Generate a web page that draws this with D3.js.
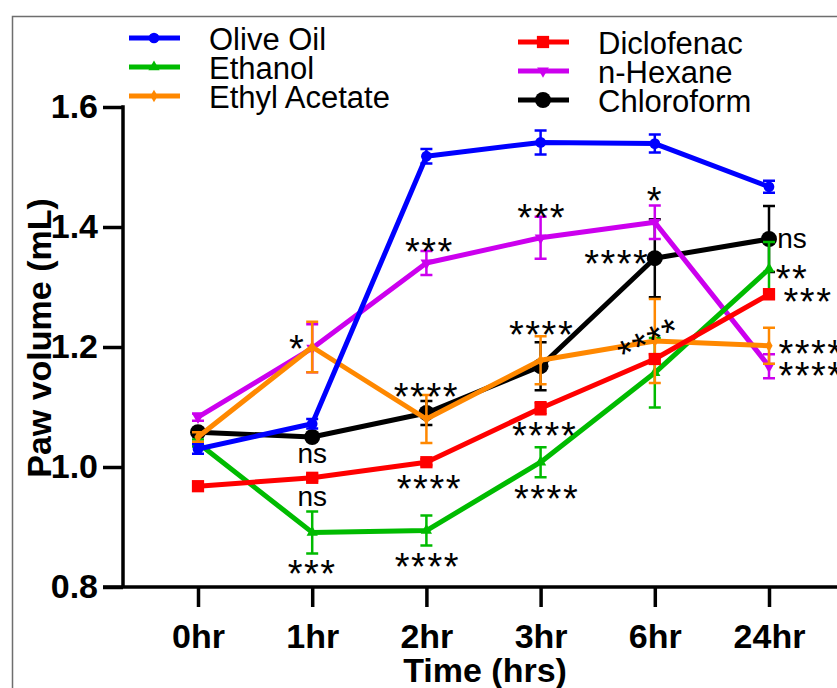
<!DOCTYPE html>
<html>
<head>
<meta charset="utf-8">
<script src="https://cdn.jsdelivr.net/npm/d3@7"></script>
<style>
  body { margin: 0; background: #fff; }
  svg { display: block; font-family: "Liberation Sans", Arial, sans-serif; }
</style>
</head>
<body>
<svg id="chart" width="837" height="688"></svg>
<script>
// ---- data ----
const timeLabels = ["0hr", "1hr", "2hr", "3hr", "6hr", "24hr"];
const yTicks = [0.8, 1.0, 1.2, 1.4, 1.6];

const oliveOil      = [1.030, 1.072, 1.518, 1.541, 1.539, 1.467];
const oliveOilErr   = [0.008, 0.008, 0.012, 0.020, 0.015, 0.010];
const ethanol       = [1.040, 0.891, 0.894, 1.008, 1.157, 1.330];
const ethanolErr    = [0.006, 0.035, 0.025, 0.025, 0.058, 0.045];
const ethylAcetate  = [1.050, 1.200, 1.080, 1.178, 1.210, 1.202];
const ethylAcetateErr = [0.008, 0.042, 0.040, 0.040, 0.070, 0.030];
const diclofenac    = [0.968, 0.982, 1.008, 1.098, 1.180, 1.288];
const diclofenacErr = [0.004, 0.005, 0.005, 0.010, 0.008, 0.008];
const nHexane       = [1.083, 1.198, 1.340, 1.382, 1.408, 1.168];
const nHexaneErr    = [0.006, 0.040, 0.020, 0.035, 0.028, 0.020];
const chloroform    = [1.058, 1.050, 1.090, 1.168, 1.348, 1.380];
const chloroformErr = [0.006, 0.006, 0.020, 0.040, 0.065, 0.055];

// significance marks: text, time, y value, horizontal nudge, rotation
const marks = [
  ["*", "1hr", 1.212, -15, 0], ["ns", "1hr", 1.020, 0, 0], ["ns", "1hr", 0.948, 0, 0], ["***", "1hr", 0.837, 0, 0],
  ["***", "2hr", 1.373, 3, 0], ["****", "2hr", 1.132, 0, 0], ["****", "2hr", 0.978, 3, 0], ["****", "2hr", 0.848, 1, 0],
  ["***", "3hr", 1.430, 1, 0], ["****", "3hr", 1.235, 1, 0], ["****", "3hr", 1.067, 4, 0], ["****", "3hr", 0.962, 6, 0],
  ["*", "6hr", 1.458, 0, 0], ["****", "6hr", 1.353, -38, 0], ["****", "6hr", 1.222, -9, -26],
  ["ns", "24hr", 1.378, 23, 0], ["**", "24hr", 1.328, 23, 0], ["***", "24hr", 1.290, 39, 0],
  ["****", "24hr", 1.203, 42, 0], ["****", "24hr", 1.167, 42, 0]
];

const series = [
  { name: "Chloroform", values: chloroform, err: chloroformErr, color: "#000000", shape: "bigCircle" },
  { name: "n-Hexane", values: nHexane, err: nHexaneErr, color: "#cc00ee", shape: "triDown" },
  { name: "Ethanol", values: ethanol, err: ethanolErr, color: "#00bb00", shape: "triUp" },
  { name: "Ethyl Acetate", values: ethylAcetate, err: ethylAcetateErr, color: "#ff8800", shape: "diamond" },
  { name: "Diclofenac", values: diclofenac, err: diclofenacErr, color: "#ff0000", shape: "square" },
  { name: "Olive Oil", values: oliveOil, err: oliveOilErr, color: "#0000ff", shape: "circle" }
];
const legendLeft = ["Olive Oil", "Ethanol", "Ethyl Acetate"];
const legendRight = ["Diclofenac", "n-Hexane", "Chloroform"];

const svg = d3.select("#chart");

// frame
svg.append("path")
  .attr("d", "M12.5,688V16.5H837")
  .attr("fill", "none").attr("stroke", "#6e6e6e").attr("stroke-width", 1.5);

const x = d3.scalePoint().domain(timeLabels).range([198, 769]);
const y = d3.scaleLinear().domain([0.8, 1.6]).range([587, 107]);

function shapePath(shape) {
  const sym = {
    circle: d3.symbol(d3.symbolCircle, 90),
    bigCircle: d3.symbol(d3.symbolCircle, 200),
    square: d3.symbol(d3.symbolSquare, 150),
    triUp: d3.symbol(d3.symbolTriangle, 55),
    triDown: d3.symbol(d3.symbolTriangle, 60),
    diamond: d3.symbol(d3.symbolDiamond, 45)
  };
  return sym[shape]();
}

// axes
const yAxis = svg.append("g")
  .attr("transform", "translate(123,0)")
  .call(d3.axisLeft(y).tickValues(yTicks).tickFormat(d3.format(".1f")).tickSize(20).tickSizeOuter(0).tickPadding(5));
yAxis.select(".domain").remove();
yAxis.selectAll("line").attr("stroke", "#000").attr("stroke-width", 3.5);
yAxis.selectAll("text").attr("font-size", 34).attr("font-weight", "bold").attr("fill", "#000");

const xAxis = svg.append("g")
  .attr("transform", "translate(0,587)")
  .call(d3.axisBottom(x).tickSize(20).tickSizeOuter(0).tickPadding(17));
xAxis.select(".domain").remove();
xAxis.selectAll("line").attr("stroke", "#000").attr("stroke-width", 3.5);
xAxis.selectAll("text").attr("font-size", 34).attr("font-weight", "bold").attr("fill", "#000");

svg.append("line").attr("x1", 123).attr("x2", 123).attr("y1", y(1.6) - 1.75).attr("y2", y(0.8))
  .attr("stroke", "#000").attr("stroke-width", 3.5);
svg.append("line").attr("x1", 103).attr("x2", 837).attr("y1", y(0.8)).attr("y2", y(0.8))
  .attr("stroke", "#000").attr("stroke-width", 3.5);

svg.append("text")
  .attr("transform", "translate(51,338) rotate(-90)")
  .attr("text-anchor", "middle")
  .attr("font-size", 34).attr("font-weight", "bold")
  .text("Paw volume (mL)");

svg.append("text")
  .attr("x", 485).attr("y", 682)
  .attr("text-anchor", "middle")
  .attr("font-size", 34).attr("font-weight", "bold")
  .text("Time (hrs)");

// series
const line = d3.line().x((d, i) => x(timeLabels[i])).y(d => y(d));

series.forEach(s => {
  const g = svg.append("g");
  // error bars
  s.values.forEach((v, i) => {
    const cx = x(timeLabels[i]);
    const top = y(v + s.err[i]), bot = y(v - s.err[i]);
    g.append("path")
      .attr("d", `M${cx},${top}V${bot}M${cx - 6},${top}H${cx + 6}M${cx - 6},${bot}H${cx + 6}`)
      .attr("fill", "none").attr("stroke", s.color).attr("stroke-width", 2.5);
  });
  g.append("path").datum(s.values)
    .attr("d", line)
    .attr("fill", "none").attr("stroke", s.color).attr("stroke-width", 5)
    .attr("stroke-linejoin", "round");
  g.selectAll(".pt").data(s.values).enter().append("path")
    .attr("transform", (d, i) => `translate(${x(timeLabels[i])},${y(d)})` + (s.shape === "triDown" ? " rotate(180)" : ""))
    .attr("d", shapePath(s.shape))
    .attr("fill", s.color);
});

// significance marks
marks.forEach(m => {
  const [txt, t, v, dx, rot] = m;
  const cx = x(t) + dx, cy = y(v);
  const isStar = txt.indexOf("*") >= 0;
  const fs = isStar ? 38 : 28;
  const base = isStar ? cy + 0.58 * fs : cy + 0.27 * fs;
  svg.append("text")
    .attr("transform", `rotate(${rot},${cx},${cy})`)
    .attr("x", cx).attr("y", base)
    .attr("text-anchor", "middle")
    .attr("font-size", fs)
    .attr("letter-spacing", isStar ? 1.5 : 0)
    .attr("fill", "#000")
    .text(txt);
});

// legend
function legendColumn(names, x0, textX, ys) {
  names.forEach((n, i) => {
    const s = series.find(d => d.name === n);
    const yy = ys[i];
    svg.append("line").attr("x1", x0).attr("x2", x0 + 51).attr("y1", yy).attr("y2", yy)
      .attr("stroke", s.color).attr("stroke-width", 5);
    svg.append("path")
      .attr("transform", `translate(${x0 + 25},${yy})` + (s.shape === "triDown" ? " rotate(180)" : ""))
      .attr("d", shapePath(s.shape)).attr("fill", s.color);
    svg.append("text").attr("x", textX).attr("y", yy + 12)
      .attr("font-size", 31).attr("fill", "#000").text(n);
  });
}
legendColumn(legendLeft, 129, 209, [38, 67, 96]);
legendColumn(legendRight, 518, 598, [42, 71, 100]);
</script>
</body>
</html>
